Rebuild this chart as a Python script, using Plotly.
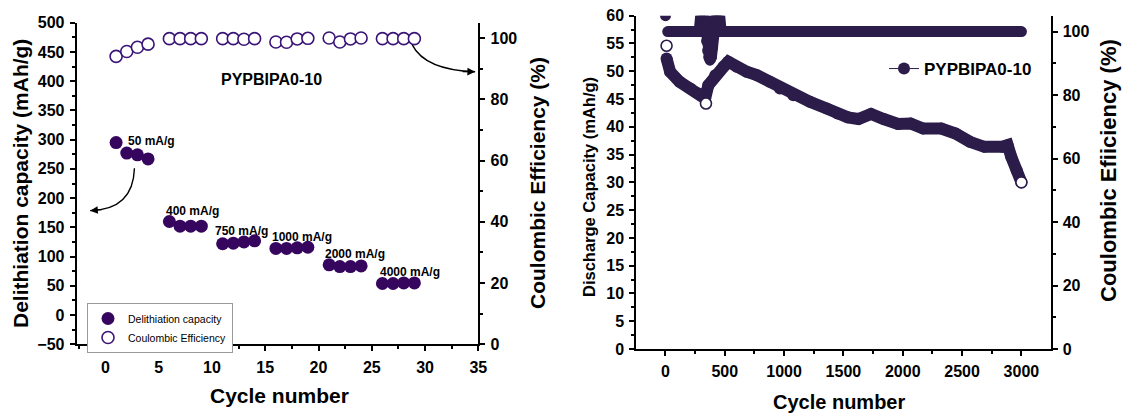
import plotly.graph_objects as go

W, H = 1124, 414
FONT = "Arial, 'Liberation Sans', sans-serif"

# ---- rate test (left panel) ----
rate_cycles = [1, 2, 3, 4, 6, 7, 8, 9, 11, 12, 13, 14, 16, 17, 18, 19, 21, 22, 23, 24, 26, 27, 28, 29]
delith_capacity = [295, 277, 274, 267, 160, 152, 152, 152, 122, 123, 125, 127,
                   114, 114, 115, 116, 86, 83, 83, 84, 54, 54, 55, 55]
rate_ce = [94.0, 95.6, 97.0, 98.0, 99.8, 99.8, 99.8, 99.8, 99.8, 99.8, 99.6, 99.8,
           98.7, 98.6, 99.7, 99.9, 100.0, 98.7, 99.7, 100.0, 99.8, 99.8, 99.8, 99.8]
rate_labels = ["50 mA/g", "400 mA/g", "750 mA/g", "1000 mA/g", "2000 mA/g", "4000 mA/g"]
rate_label_x = [1.9, 5.5, 10.1, 15.4, 20.45, 25.55]
rate_label_y = [298, 178, 143, 133, 104, 74]

# ---- long cycling (right panel) ----
long_cycles = [10, 40, 120, 210, 280, 335, 362, 420, 490, 530, 600, 685, 770, 880, 965,
               1078, 1218, 1359, 1450, 1537, 1627, 1733, 1839, 1960, 2066, 2172, 2324,
               2445, 2566, 2688, 2839, 2884, 2914, 2960, 3000]
discharge_capacity = [52.3, 49.9, 48.1, 46.9, 46.0, 45.1, 47.5, 49.3, 50.8, 51.7, 50.8,
                      49.9, 49.3, 48.1, 46.9, 45.7, 44.5, 43.3, 42.4, 41.7, 41.4, 42.3,
                      41.4, 40.5, 40.6, 39.7, 39.7, 38.8, 37.3, 36.4, 36.4, 36.7, 34.6,
                      32.2, 30.0]
marked_cycles = [10, 342, 3000]
marked_capacity = [54.6, 44.2, 30.0]
long_ce_cycles = [1, 20, 285, 300, 312, 325, 337, 347, 356, 365, 376, 388, 398, 408, 418,
                  430, 442, 455, 470, 1000, 2000, 3000]
long_ce = [105, 100, 100, 106, 103, 106, 103, 97, 94, 92, 91, 92, 95, 99, 104, 106,
           104, 106, 100, 100, 100, 100]

C_LEFT = "#36065F"
C_LEFT_OPEN = "#3B1478"
C_RIGHT = "#2C1C4A"


def fx(px):
    return px / W


def fy(py):
    return 1 - py / H


fig = go.Figure()

# left panel traces
fig.add_trace(go.Scatter(
    x=rate_cycles, y=delith_capacity, mode="markers", name="Delithiation capacity",
    marker=dict(size=13, color=C_LEFT, line=dict(width=0)),
    xaxis="x", yaxis="y", legend="legend"))
fig.add_trace(go.Scatter(
    x=rate_cycles, y=rate_ce, mode="markers", name="Coulombic Efficiency",
    marker=dict(size=12, color="white", line=dict(width=1.6, color=C_LEFT_OPEN)),
    xaxis="x", yaxis="y2", legend="legend"))

# right panel traces
fig.add_trace(go.Scatter(
    x=long_ce_cycles[1:], y=long_ce[1:], mode="lines", showlegend=False,
    line=dict(width=11, color=C_RIGHT), xaxis="x2", yaxis="y4"))
fig.add_trace(go.Scatter(
    x=long_ce_cycles, y=long_ce, mode="markers", showlegend=False,
    marker=dict(size=11, color=C_RIGHT), xaxis="x2", yaxis="y4"))
fig.add_trace(go.Scatter(
    x=long_cycles, y=discharge_capacity, mode="lines", showlegend=False,
    line=dict(width=12, color=C_RIGHT), xaxis="x2", yaxis="y3"))
fig.add_trace(go.Scatter(
    x=long_cycles, y=discharge_capacity, mode="lines+markers", name="PYPBIPA0-10",
    line=dict(width=1, color=C_RIGHT), marker=dict(size=12, color=C_RIGHT),
    xaxis="x2", yaxis="y3", legend="legend2"))
fig.add_trace(go.Scatter(
    x=marked_cycles, y=marked_capacity, mode="markers", showlegend=False,
    marker=dict(size=11, color="white", line=dict(width=1.6, color=C_RIGHT)),
    xaxis="x2", yaxis="y3"))

tickfont = dict(family=FONT, size=16, color="black", weight="bold")


def axis(**kw):
    base = dict(showline=True, linecolor="black", linewidth=2, ticks="outside",
                ticklen=5, tickwidth=1.5, tickcolor="black", showgrid=False,
                zeroline=False, tickfont=tickfont, ticklabelstandoff=2,
                automargin=False)
    base.update(kw)
    return base


def minor(dt, side="outside"):
    return dict(ticks=side, ticklen=3, tickwidth=1.5, tickcolor="black", dtick=dt)


L_X = [fx(76.7), fx(478.3)]
L_Y = [fy(344.3), fy(22.7)]
R_X = [fx(636.3), fx(1050.5)]
R_Y = [fy(349), fy(15.7)]

fig.update_layout(
    template="none",
    width=W, height=H, margin=dict(l=0, r=0, t=0, b=0, autoexpand=False),
    paper_bgcolor="white", plot_bgcolor="white",
    font=dict(family=FONT, color="black"),
    xaxis=axis(domain=L_X, anchor="y", range=[-2.7, 35], tick0=0, dtick=5, minor=minor(2.5)),
    xaxis3=axis(overlaying="x", anchor="y", side="top", range=[-2.7, 35], tick0=0, dtick=5,
                ticks="inside", showticklabels=False, minor=minor(2.5, "inside")),
    yaxis=axis(domain=L_Y, anchor="x", range=[-50, 500], tick0=0, dtick=50, minor=minor(25)),
    yaxis2=axis(overlaying="y", anchor="x", side="right", range=[0, 105], tick0=0, dtick=20,
                minor=minor(10)),
    xaxis2=axis(domain=R_X, anchor="y3", range=[-245, 3245], tick0=0, dtick=500,
                minor=minor(250)),
    xaxis4=axis(overlaying="x2", anchor="y3", side="top", range=[-245, 3245], tick0=0,
                dtick=500, ticks="inside", showticklabels=False, minor=minor(250, "inside")),
    yaxis3=axis(domain=R_Y, anchor="x2", range=[0, 60], tick0=0, dtick=5, minor=minor(2.5)),
    yaxis4=axis(overlaying="y3", anchor="x2", side="right", range=[0, 105], tick0=0, dtick=20,
                minor=minor(10)),
    legend=dict(x=fx(87), y=fy(303), xanchor="left", yanchor="top",
                bgcolor="white", bordercolor="#9a9a9a", borderwidth=1,
                font=dict(family=FONT, size=10.5, color="black"),
                itemwidth=30, tracegroupgap=0),
    legend2=dict(x=fx(884), y=fy(69), xanchor="left", yanchor="middle",
                 bgcolor="rgba(0,0,0,0)", borderwidth=0,
                 font=dict(family=FONT, size=17, color="black", weight="bold"),
                 itemwidth=30),
)

annotations = []
# rate labels
for t, x, y in zip(rate_labels, rate_label_x, rate_label_y):
    annotations.append(dict(x=x, y=y, xref="x", yref="y", text=t, showarrow=False,
                            xanchor="left", yanchor="middle",
                            font=dict(family=FONT, size=12, color="black", weight="bold")))
annotations.append(dict(x=15.6, y=402, xref="x", yref="y", text="PYPBIPA0-10", showarrow=False,
                        xanchor="center", yanchor="middle",
                        font=dict(family=FONT, size=16, color="black", weight="bold")))
# arrow heads for the curved pointers
annotations.append(dict(x=-1.44, y=178.6, ax=-0.2, ay=180.5, xref="x", yref="y",
                        axref="x", ayref="y", text="", showarrow=True, arrowhead=2,
                        arrowsize=1.1, arrowwidth=1.4, arrowcolor="black"))
annotations.append(dict(x=34.7, y=416, ax=33.4, ay=416.6, xref="x", yref="y",
                        axref="x", ayref="y", text="", showarrow=True, arrowhead=2,
                        arrowsize=1.1, arrowwidth=1.4, arrowcolor="black"))

# axis titles
title_font = dict(family=FONT, color="black", weight="bold")


def title(px, py, text, size, angle=0):
    return dict(x=fx(px), y=fy(py), xref="paper", yref="paper", text=text,
                textangle=angle, showarrow=False, xanchor="center", yanchor="middle",
                font=dict(size=size, **title_font))


annotations += [
    title(20.5, 183.5, "Delithiation capacity (mAh/g)", 21, -90),
    title(538, 183, "Coulombic Efficiency (%)", 21, -90),
    title(279.5, 395, "Cycle number", 21),
    title(589, 187, "Discharge Capacity (mAh/g)", 16.5, -90),
    title(1108, 171, "Coulombic Efiiciency (%)", 22, -90),
    title(838.5, 402, "Cycle number", 20),
]
fig.update_layout(annotations=annotations)

# curved pointer lines
fig.add_shape(type="path", xref="x", yref="y",
              path="M 2.72,251 Q 2.6,180 -1.44,178.6",
              line=dict(color="black", width=1.4))
fig.add_shape(type="path", xref="x", yref="y",
              path="M 28.8,462 Q 30.0,419 34.7,416",
              line=dict(color="black", width=1.4))

fig.write_html("out.html")
